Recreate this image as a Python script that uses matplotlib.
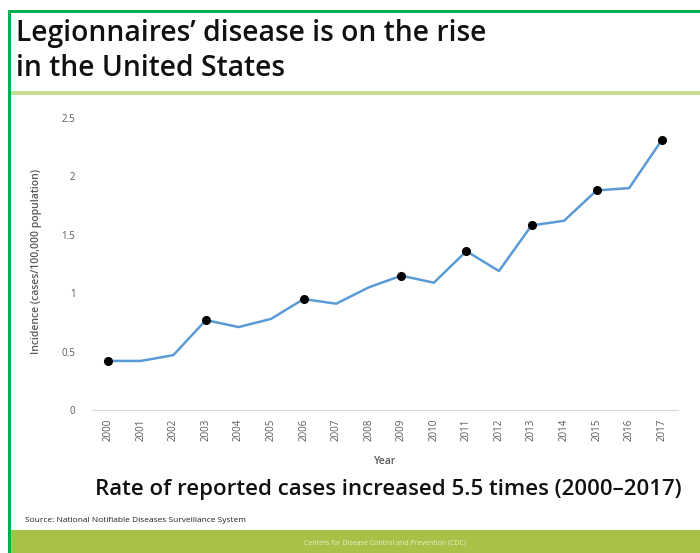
import matplotlib
matplotlib.use("Agg")
import matplotlib.pyplot as plt
from matplotlib.patches import Rectangle

# Legionnaires' disease incidence, cases per 100,000 population
years = [str(y) for y in range(2000, 2018)]
incidence = [0.42, 0.42, 0.47, 0.77, 0.71, 0.78, 0.95, 0.91, 1.05,
             1.15, 1.09, 1.36, 1.19, 1.58, 1.62, 1.88, 1.90, 2.31]
marked_years = ["2000", "2003", "2006", "2009", "2011", "2013", "2015", "2017"]
y_ticks = [0, 0.5, 1, 1.5, 2, 2.5]
y_tick_labels = ["0", "0.5", "1", "1.5", "2", "2.5"]

W, H = 700, 553
FONT = "Open Sans"
GRAY = "#595959"

fig = plt.figure(figsize=(W / 100, H / 100), dpi=100)


def px_box(x0, y0, x1, y1):
    # pixel box (top-left origin) -> figure fraction rect
    return [x0 / W, 1 - y1 / H, (x1 - x0) / W, (y1 - y0) / H]


# frame decoration
green = "#00B050"
fig.add_artist(Rectangle((8 / W, 0), 3 / W, 1 - 10 / H, transform=fig.transFigure,
                         color=green, lw=0))
fig.add_artist(Rectangle((8 / W, 1 - 13 / H), 1, 3 / H, transform=fig.transFigure,
                         color=green, lw=0))
fig.add_artist(Rectangle((11 / W, 1 - 95 / H), 1, 4 / H, transform=fig.transFigure,
                         color="#C9DB8E", lw=0))
fig.add_artist(Rectangle((11 / W, 0), 1, 23 / H, transform=fig.transFigure,
                         color="#A9C146", lw=0))

fig.text(16 / W, 1 - 33 / H, "Legionnaires\u2019 disease is on the rise",
         fontsize=20.3, family=FONT, weight="semibold", va="center", ha="left",
         color="#111111")
fig.text(16 / W, 1 - 68 / H, "in the United States",
         fontsize=20.3, family=FONT, weight="semibold", va="center", ha="left",
         color="#111111")

ax = fig.add_axes(px_box(92, 118, 678, 410))
x = list(range(len(years)))
ax.plot(x, incidence, color="#5B9BD5", lw=1.8, zorder=2)
mx = [years.index(y) for y in marked_years]
my = [incidence[i] for i in mx]
ax.plot(mx, my, "o", color="black", ms=5.5, zorder=3)

ax.set_xlim(-0.5, len(years) - 0.5)
ax.set_ylim(0, 2.5)
ax.set_yticks(y_ticks)
ax.set_yticklabels(y_tick_labels)
ax.set_xticks(x)
ax.set_xticklabels(years, rotation=90)
ax.tick_params(axis="both", length=0, colors=GRAY, labelsize=7)
ax.tick_params(axis="y", pad=12)
ax.tick_params(axis="x", pad=6)
for lab in ax.get_xticklabels() + ax.get_yticklabels():
    lab.set_family(FONT)
for side in ["top", "right", "left"]:
    ax.spines[side].set_visible(False)
ax.spines["bottom"].set_color("#D9D9D9")

fig.text(37 / W, 1 - 262 / H, "Incidence (cases/100,000 population)",
         rotation=90, fontsize=7.5, family=FONT, color=GRAY, weight="semibold",
         ha="center", va="center")
fig.text(385 / W, 1 - 461 / H, "Year", fontsize=7.5, family=FONT, color=GRAY,
         weight="semibold", ha="center", va="center")
fig.text(388 / W, 1 - 489 / H,
         "Rate of reported cases increased 5.5 times (2000\u20132017)",
         fontsize=16, family=FONT, weight="semibold", color="#111111",
         ha="center", va="center")
fig.text(25 / W, 1 - 521 / H, "Source: National Notifiable Diseases Surveillance System",
         fontsize=6, family=FONT, color="#222222", ha="left", va="center")
fig.text(385 / W, 1 - 543 / H, "Centers for Disease Control and Prevention (CDC)",
         fontsize=5, family=FONT, color="#E8EFD0", ha="center", va="center")

fig.savefig("out.png", dpi=100)
